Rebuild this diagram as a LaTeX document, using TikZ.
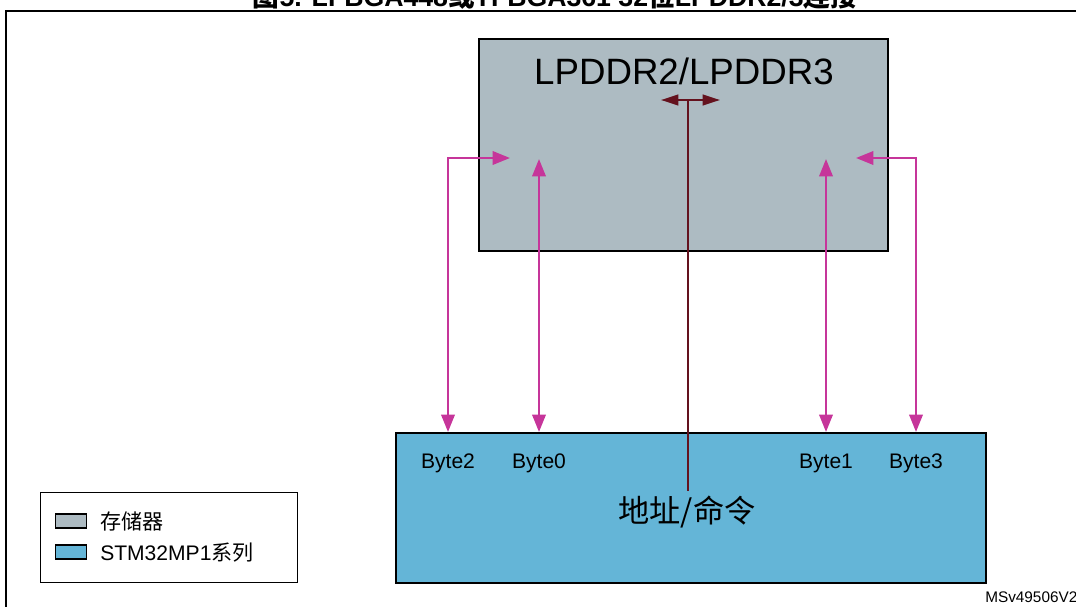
\documentclass[tikz,border=0pt]{standalone}
\usepackage{fontspec}
\setmainfont{Liberation Sans}
\newfontfamily\cjk{Noto Sans CJK SC}
\usetikzlibrary{arrows.meta}
\definecolor{memgray}{HTML}{ADBBC2}
\definecolor{stmblue}{HTML}{64B5D7}
\definecolor{busmag}{HTML}{C6359A}
\definecolor{addrred}{HTML}{64121E}
\tikzset{
  x=0.75pt, y=-0.75pt,
  block/.style={draw=black, line width=1.2pt, inner sep=0pt, anchor=north west},
  bus/.style={draw=busmag, line width=1.8pt, {Triangle[length=13pt,width=10pt]}-{Triangle[length=13pt,width=10pt]}},
  addr/.style={draw=addrred, line width=1.6pt},
  lbl/.style={font=\fontsize{15.8}{18}\selectfont, inner sep=0pt},
  swatch/.style={draw=black, line width=1pt, minimum width=23pt, minimum height=10.5pt, inner sep=0pt, anchor=west},
}
\begin{document}
\begin{tikzpicture}
\useasboundingbox (0,0) rectangle (1076,607);
% frame
\draw[line width=1pt] (6,620) -- (6,11) -- (1090,11);
\node[font=\bfseries\fontsize{20}{22}\selectfont, inner sep=0pt, anchor=base] (title) at (555,6) {{\cjk\bfseries 图}5. LFBGA448{\cjk\bfseries 或}TFBGA361 32{\cjk\bfseries 位}LPDDR2/3{\cjk\bfseries 连接}};
% memory
\node[block, fill=memgray, minimum width=306.75pt, minimum height=159pt] (mem) at (478,38) {};
\node[font=\fontsize{27.5}{30}\selectfont, inner sep=0pt] (memlbl) at (684,71) {LPDDR2/LPDDR3};
% stm
\node[block, fill=stmblue, minimum width=442.5pt, minimum height=112.5pt] (stm) at (395,432) {};
\node[lbl] (b2) at (448,463) {Byte2};
\node[lbl] (b0) at (539,463) {Byte0};
\node[lbl] (b1) at (826,463) {Byte1};
\node[lbl] (b3) at (916,463) {Byte3};
\node[font=\cjk\fontsize{23.4}{26}\selectfont, inner sep=0pt] (cmd) at (687,512) {地址/命令};
% address/command
\coordinate (aL) at (661,100);
\coordinate (aR) at (720,100);
\coordinate (aT) at (688,100);
\coordinate (aB) at (688,491);
\draw[addr, {Triangle[length=13pt,width=8pt]}-{Triangle[length=13pt,width=8pt]}] (aL) -- (aR);
\draw[addr] (aT) -- (aB);
% byte lanes
\coordinate (m2) at (510,158);
\coordinate (m0) at (539,159);
\coordinate (m1) at (826,159);
\coordinate (m3) at (856,158);
\coordinate (s2) at (448,432);
\coordinate (s0) at (539,432);
\coordinate (s1) at (826,432);
\coordinate (s3) at (916,432);
\draw[bus] (s2) |- (m2);
\draw[bus] (s0) -- (m0);
\draw[bus] (s1) -- (m1);
\draw[bus] (s3) |- (m3);
% legend
\node[draw=black, line width=0.8pt, minimum width=192.75pt, minimum height=67.5pt, inner sep=0pt, anchor=north west] (legend) at (40,492) {};
\node[swatch, fill=memgray] (sw1) at (55,521) {};
\node[swatch, fill=stmblue] (sw2) at (55,552) {};
\node[lbl, anchor=west, font=\cjk\fontsize{15.8}{18}\selectfont] (t1) at (100,521) {存储器};
\node[lbl, anchor=west] (t2) at (100,553) {STM32MP1{\cjk 系列}};
\node[anchor=west, inner sep=0pt, font=\fontsize{11.5}{13}\selectfont] (id) at (985,597) {MSv49506V2};
\end{tikzpicture}
\end{document}
